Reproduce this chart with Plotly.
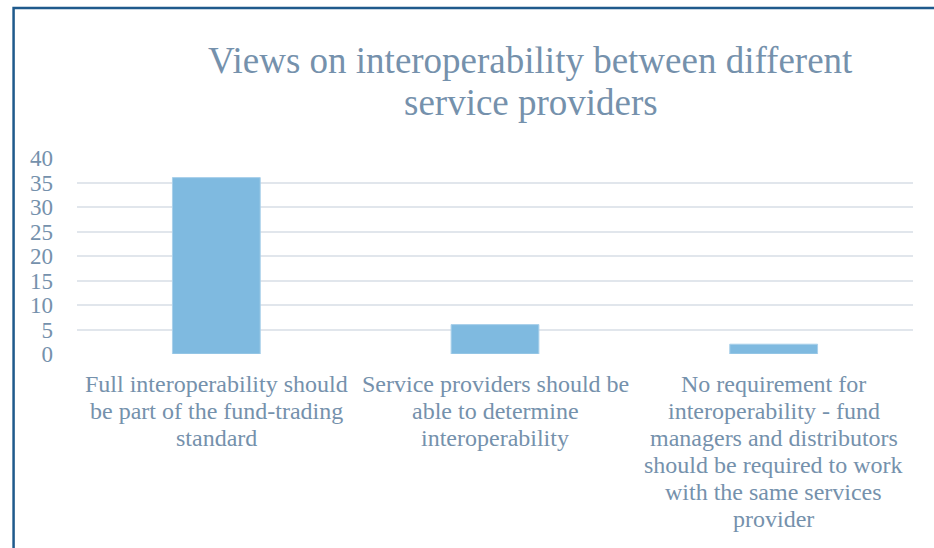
import plotly.graph_objects as go

# Survey responses on interoperability between service providers
category_lines = [
    ["Full interoperability should", "be part of the fund-trading", "standard"],
    ["Service providers should be", "able to determine", "interoperability"],
    [
        "No requirement for",
        "interoperability - fund",
        "managers and distributors",
        "should be required to work",
        "with the same services",
        "provider",
    ],
]
categories = [" ".join(lines) for lines in category_lines]
responses = [36, 6, 2]
y_ticks = [0, 5, 10, 15, 20, 25, 30, 35, 40]
title_lines = ["Views on interoperability between different", "service providers"]

TEXT = "#7591ac"
GRID = "#e1e6ec"
BAR = "#7fbae0"
FRAME = "#1f5a8c"
FONT = "Liberation Serif"

fig = go.Figure(
    go.Bar(
        x=categories,
        y=responses,
        marker=dict(color=BAR, line=dict(color="#a9d0ea", width=1)),
        width=0.315,
        hoverinfo="skip",
    )
)

annotations = []
# Title, one annotation per line for tighter leading
for i, line in enumerate(title_lines):
    annotations.append(
        dict(
            text=line,
            xref="paper",
            yref="paper",
            x=(531 - 76.5) / 837,
            y=1,
            xanchor="center",
            yanchor="middle",
            yshift=98 - 42 * i,
            showarrow=False,
            font=dict(family=FONT, size=37, color=TEXT),
        )
    )
# Category labels under each bar, one line at a time
for cat, lines in zip(categories, category_lines):
    for i, line in enumerate(lines):
        annotations.append(
            dict(
                text=line,
                xref="x",
                yref="paper",
                x=cat,
                y=0,
                xanchor="center",
                yanchor="middle",
                yshift=-30 - 27 * i,
                showarrow=False,
                font=dict(family=FONT, size=24, color=TEXT),
            )
        )

fig.update_layout(
    width=934,
    height=548,
    margin=dict(l=76.5, r=20.5, t=158, b=194),
    paper_bgcolor="white",
    plot_bgcolor="white",
    font=dict(family=FONT, color=TEXT, size=22),
    showlegend=False,
    annotations=annotations,
    shapes=[
        dict(
            type="rect",
            xref="paper",
            yref="paper",
            x0=(13 - 76.5) / 837,
            x1=1.2,
            y0=-1.5,
            y1=1 + (158 - 8) / 196,
            line=dict(color=FRAME, width=2.5),
            fillcolor="rgba(0,0,0,0)",
            layer="above",
        )
    ],
)

fig.update_yaxes(
    range=[0, 40],
    tickvals=y_ticks,
    showgrid=True,
    gridcolor=GRID,
    gridwidth=2,
    zeroline=False,
    showline=False,
    ticks="",
    ticklabelstandoff=23,
    tickfont=dict(family=FONT, size=23, color=TEXT),
)
fig.update_xaxes(
    showgrid=False,
    showline=False,
    ticks="",
    showticklabels=False,
)

fig.write_html("out.html")
